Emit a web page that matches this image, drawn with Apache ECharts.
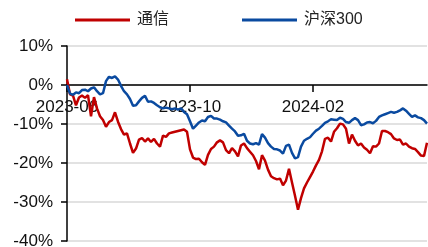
<!DOCTYPE html>
<html>
<head>
<meta charset="utf-8">
<script src="https://cdn.jsdelivr.net/npm/echarts@6/dist/echarts.min.js"></script>
<style>
	html, body { margin: 0; padding: 0; background: #fff; }
	#chart { width: 428px; height: 247px; }
</style>
</head>
<body>
<div id="chart"></div>
<script>
(function() {

	var FONT = "'Liberation Sans', 'Noto Sans CJK SC', sans-serif";

	// 序列名称
	var names = ['通信', '沪深300'];

	// 通信 累计涨跌幅 (%)
	var telecom = [
		1.5, -2.4, -2.7, -5.2, -3.2, -2.7, -3.3, -2.6, -8.0, -3.1,
		-6.0, -8.0, -9.0, -10.7, -9.5, -9.0, -7.0, -9.4, -11.3, -12.7,
		-12.4, -15.0, -17.4, -16.3, -14.0, -13.6, -14.5, -13.7, -14.6, -13.8,
		-15.0, -15.8, -13.0, -13.3, -12.4, -12.2, -12.0, -11.8, -11.6, -11.4,
		-12.0, -16.5, -18.6, -19.0, -18.9, -19.8, -20.5, -17.9, -16.4, -15.8,
		-14.7, -14.2, -14.7, -16.7, -17.5, -16.2, -17.0, -18.3, -15.5, -15.0,
		-16.2, -17.1, -18.0, -19.5, -21.6, -18.0, -19.4, -21.7, -23.4, -23.9,
		-24.2, -24.0, -25.7, -24.5, -21.5, -25.0, -28.4, -32.0, -29.0, -26.5,
		-25.0, -23.6, -22.2, -20.6, -19.2, -17.0, -13.8, -13.5, -14.5, -12.0,
		-11.1, -9.9, -10.1, -11.2, -15.0, -12.7, -14.3, -15.5, -15.0, -16.0,
		-16.6, -17.5, -15.7, -15.8, -15.0, -11.8, -11.8, -12.1, -12.6, -13.7,
		-14.1, -14.0, -15.3, -15.0, -15.8, -16.2, -16.4, -17.2, -18.1, -18.2,
		-14.8
	];

	// 沪深300 累计涨跌幅 (%)
	var hs300 = [
		0, -2.2, -2.5, -1.9, -2.1, -1.3, -1.2, -1.6, -0.9, -0.6,
		-1.6, -2.4, -2.1, 1.0, 2.1, 1.8, 2.2, 1.4, -0.2, -1.6,
		-2.4, -3.6, -5.3, -5.2, -4.2, -3.3, -2.8, -4.3, -4.2, -4.6,
		-5.2, -5.7, -6.0, -5.8, -6.0, -6.2, -6.0, -6.3, -6.0, -6.9,
		-7.5, -9.3, -11.2, -10.4, -9.6, -9.1, -9.3, -8.2, -7.9, -8.6,
		-8.6, -8.9, -9.3, -9.6, -10.4, -11.2, -11.9, -13.0, -12.9, -12.5,
		-14.3, -15.0, -15.2, -14.9, -15.3, -12.6, -13.5, -14.9, -15.8, -16.4,
		-16.5, -16.8, -17.6, -15.6, -15.3, -17.4, -18.8, -18.5, -15.8, -14.3,
		-13.8, -13.4, -12.5, -11.7, -11.2, -10.5, -9.7, -9.3, -8.8, -8.9,
		-9.0, -8.4, -8.7, -9.5, -9.7, -9.0, -8.5, -9.0, -10.3, -10.1,
		-9.6, -9.5, -9.8, -9.2, -8.2, -7.8, -7.5, -7.2, -6.9, -7.1,
		-6.9, -6.5, -6.0, -6.6, -7.4, -8.2, -7.8, -8.3, -8.5, -9.0,
		-9.9
	];

	// 刻度月份
	var tickMonths = ['06', '10', '02'];

	// 日期 (从 2023-06-01 起, 每 3 天一个点)
	var dates = [];
	var start = Date.UTC(2023, 5, 1);
	for (var i = 0; i < telecom.length; i++) {
		dates.push(new Date(start + i * 3 * 86400000).toISOString().slice(0, 10));
	}

	function showTick(index, value) {
		var m = value.slice(5, 7);
		if (tickMonths.indexOf(m) < 0) return false;
		return index === 0 || dates[index - 1].slice(5, 7) !== m;
	}

	var legendText = {
		"color": "#222",
		"fontSize": 16,
		"fontFamily": FONT,
		"padding": [0, 0, 0, 2]
	};

	var option = {
		"animation": false,
		"backgroundColor": "#fff",
		"textStyle": {
			"fontFamily": FONT
		},
		"legend": [{
			"left": 75,
			"top": 12,
			"padding": 0,
			"itemWidth": 55,
			"itemHeight": 3,
			"icon": "rect",
			"textStyle": legendText,
			"data": [names[0]]
		}, {
			"left": 242,
			"top": 12,
			"padding": 0,
			"itemWidth": 55,
			"itemHeight": 3,
			"icon": "rect",
			"textStyle": legendText,
			"data": [names[1]]
		}],
		"grid": {
			"left": 67,
			"right": 1,
			"top": 46,
			"bottom": 6,
			"outerBoundsMode": "none",
			"containLabel": false
		},
		"xAxis": {
			"type": "category",
			"boundaryGap": false,
			"data": dates,
			"offset": -156,
			"axisLine": {
				"onZero": false,
				"lineStyle": {
					"color": "#000",
					"width": 1.5
				}
			},
			"axisTick": {
				"interval": showTick,
				"length": 7,
				"lineStyle": {
					"color": "#000",
					"width": 1.5
				}
			},
			"axisLabel": {
				"interval": showTick,
				"margin": 14,
				"color": "#111",
				"fontSize": 17,
				"fontFamily": FONT,
				"formatter": function(v) {
					return v.slice(0, 7);
				}
			},
			"splitLine": {
				"show": false
			}
		},
		"yAxis": {
			"type": "value",
			"min": -40,
			"max": 10,
			"interval": 10,
			"axisLine": {
				"show": true,
				"onZero": false,
				"lineStyle": {
					"color": "#000",
					"width": 1.5
				}
			},
			"axisTick": {
				"show": true,
				"length": 6,
				"lineStyle": {
					"color": "#000",
					"width": 1.5
				}
			},
			"axisLabel": {
				"margin": 14,
				"color": "#111",
				"fontSize": 17,
				"fontFamily": FONT,
				"formatter": "{value}%"
			},
			"splitLine": {
				"show": true,
				"lineStyle": {
					"color": "#d9d9d9",
					"width": 1.5
				}
			}
		},
		"series": [{
			"name": names[0],
			"type": "line",
			"data": telecom,
			"showSymbol": false,
			"symbol": "none",
			"itemStyle": {
				"color": "#C00000"
			},
			"lineStyle": {
				"color": "#C00000",
				"width": 2.5
			}
		}, {
			"name": names[1],
			"type": "line",
			"data": hs300,
			"showSymbol": false,
			"symbol": "none",
			"itemStyle": {
				"color": "#0A4AA0"
			},
			"lineStyle": {
				"color": "#0A4AA0",
				"width": 2.5
			}
		}]
	};

	var chart = echarts.init(document.getElementById('chart'));
	chart.setOption(option);

})();
</script>
</body>
</html>
